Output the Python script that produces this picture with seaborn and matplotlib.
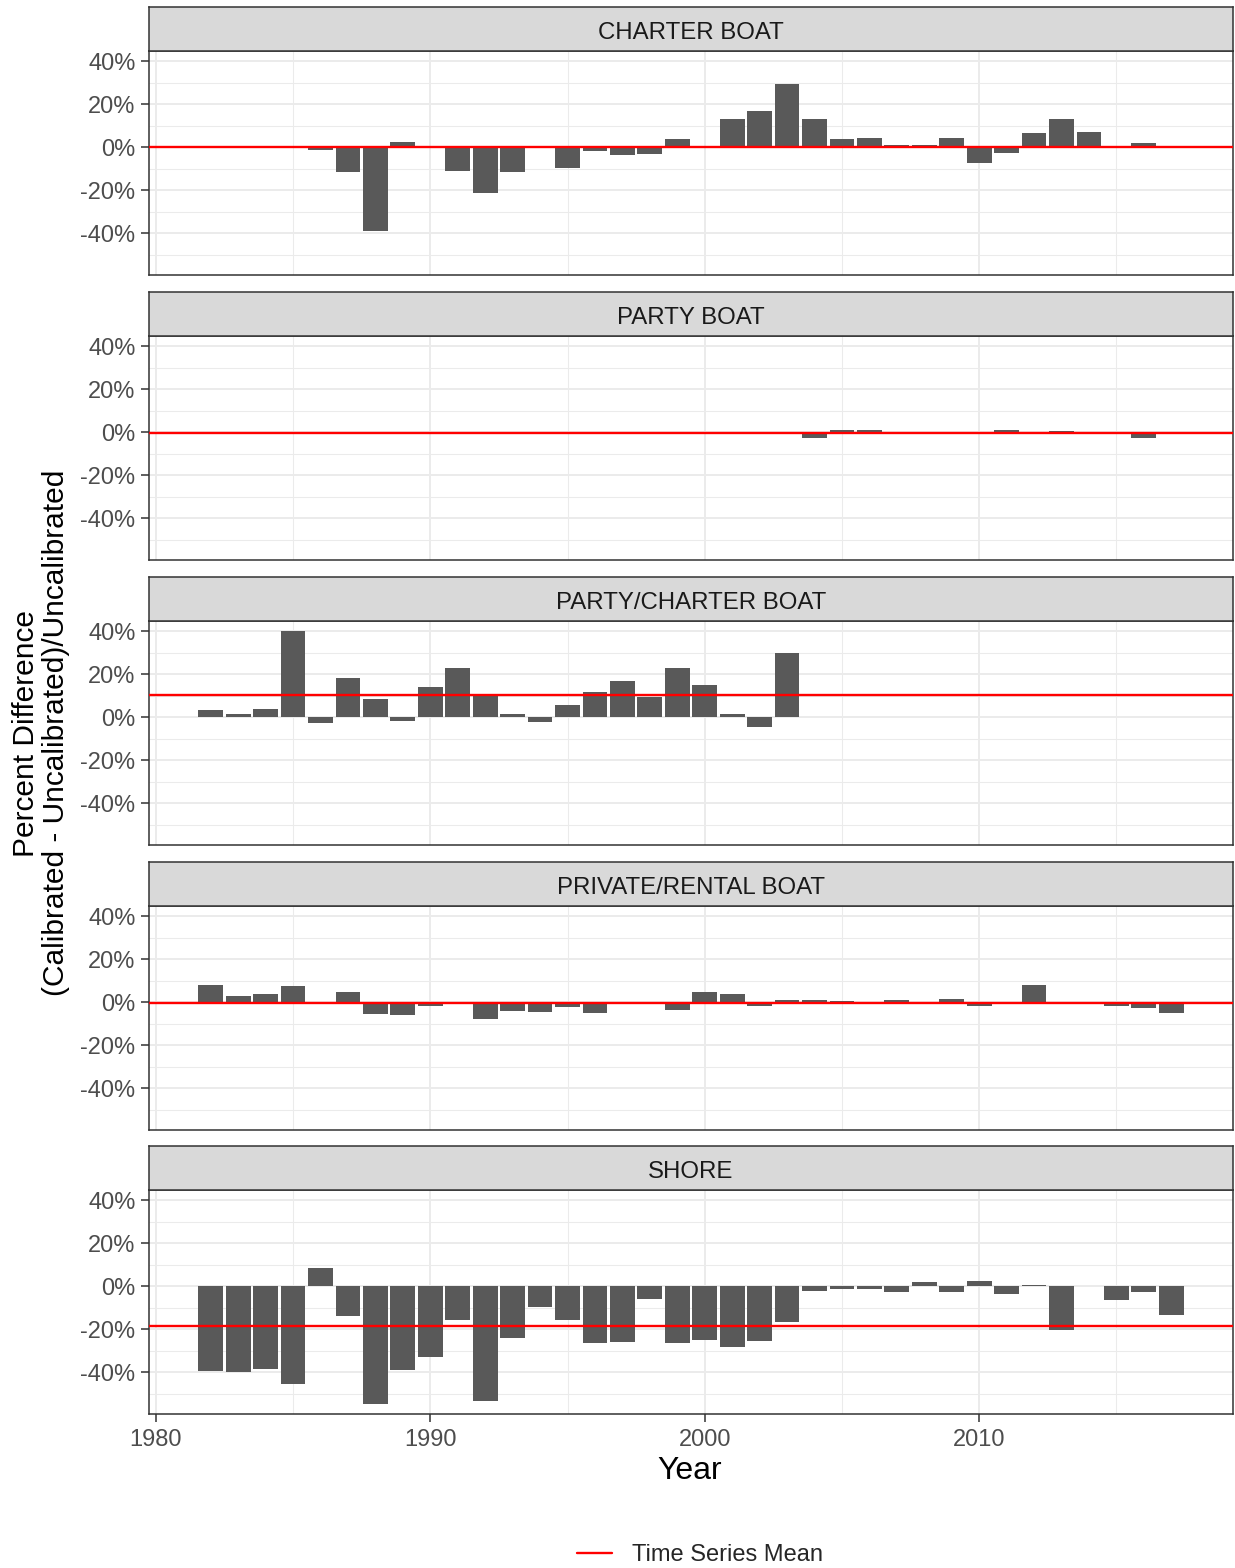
import numpy as np
import pandas as pd
import matplotlib
matplotlib.use("Agg")
import matplotlib.pyplot as plt
import seaborn as sns
from matplotlib.ticker import MultipleLocator, FixedLocator, FuncFormatter
from matplotlib.lines import Line2D

# ---------------- data ----------------
modes = ["CHARTER BOAT", "PARTY BOAT", "PARTY/CHARTER BOAT",
         "PRIVATE/RENTAL BOAT", "SHORE"]

charter_years = [1986, 1987, 1988, 1989, 1991, 1992, 1993, 1995, 1996, 1997, 1998, 1999,
                 2001, 2002, 2003, 2004, 2005, 2006, 2007, 2008, 2009, 2010, 2011, 2012,
                 2013, 2014, 2016]
charter_vals = [-1.2, -11.7, -39.0, 2.3, -10.9, -21.4, -11.4, -9.8, -1.9, -3.7, -3.0, 3.7,
                13.3, 16.9, 29.2, 13.3, 3.9, 4.2, 1.2, 1.2, 4.5, -7.3, -2.8, 6.7,
                13.3, 7.0, 2.2]

party_years = [2004, 2005, 2006, 2011, 2013, 2015, 2016]
party_vals = [-2.6, 1.1, 1.1, 1.0, 0.6, -0.5, -2.8]

pc_years = [1982, 1983, 1984, 1985, 1986, 1987, 1988, 1989, 1990, 1991, 1992,
            1993, 1994, 1995, 1996, 1997, 1998, 1999, 2000, 2001, 2002, 2003]
pc_vals = [3.6, 1.4, 4.0, 40.0, -2.5, 18.2, 8.7, -1.7, 14.0, 22.9, 10.5,
           1.7, -2.0, 5.9, 11.7, 17.0, 9.2, 22.7, 14.8, 1.7, -4.7, 29.9]

private_years = [1982, 1983, 1984, 1985, 1987, 1988, 1989, 1990, 1992, 1993, 1994,
                 1995, 1996, 1999, 2000, 2001, 2002, 2003, 2004, 2005, 2007, 2009,
                 2010, 2012, 2015, 2016, 2017]
private_vals = [8.2, 2.8, 3.7, 7.5, 4.6, -5.4, -5.7, -1.5, -7.7, -4.2, -4.5,
                -2.3, -4.9, -3.5, 4.9, 3.7, -1.7, 1.1, 1.1, 0.6, 1.2, 1.5,
                -1.5, 8.2, -1.5, -2.6, -5.2]

shore_years = [1982, 1983, 1984, 1985, 1986, 1987, 1988, 1989, 1990, 1991, 1992,
               1993, 1994, 1995, 1996, 1997, 1998, 1999, 2000, 2001, 2002, 2003,
               2004, 2005, 2006, 2007, 2008, 2009, 2010, 2011, 2012, 2013, 2015,
               2016, 2017]
shore_vals = [-39.2, -39.8, -38.3, -45.3, 8.7, -13.8, -54.6, -38.8, -32.9, -15.5, -53.3,
              -24.0, -9.5, -15.5, -26.4, -26.0, -6.0, -26.4, -24.8, -28.1, -25.3, -16.7,
              -2.2, -1.2, -1.1, -2.8, 2.2, -2.8, 2.5, -3.4, 0.8, -20.3, -6.4,
              -2.5, -13.2]

mode_years = [charter_years, party_years, pc_years, private_years, shore_years]
mode_vals = [charter_vals, party_vals, pc_vals, private_vals, shore_vals]

y_ticks = [-40, -20, 0, 20, 40]
x_ticks = [1980, 1990, 2000, 2010]

frames = []
for m, ys, vs in zip(modes, mode_years, mode_vals):
    frames.append(pd.DataFrame({"mode": m, "year": ys, "pct": vs}))
df = pd.concat(frames, ignore_index=True)
means = df.groupby("mode")["pct"].mean()

# ---------------- style ----------------
sns.set_theme(style="white")
plt.rcParams["font.family"] = ["Liberation Sans", "DejaVu Sans"]

W, H = 1235, 1568
fig = plt.figure(figsize=(W / 100, H / 100), dpi=100)


def rect(x0, y0, x1, y1):
    return [x0 / W, 1 - y1 / H, (x1 - x0) / W, (y1 - y0) / H]


left, right = 149, 1233
panel_tops = [51, 336, 621, 906, 1190]
panel_h = 224
strip_h = 44
dark = "#333333"
grid_c = "#EBEBEB"
tick_fs = 17

for i, m in enumerate(modes):
    top = panel_tops[i]
    ax = fig.add_axes(rect(left, top, right, top + panel_h))
    sub = df[df["mode"] == m]
    sns.barplot(data=sub, x="year", y="pct", native_scale=True, color="#595959",
                saturation=1, width=0.9, errorbar=None, linewidth=0, ax=ax, zorder=2)
    ax.axhline(means[m], color="#FF0000", lw=1.7, zorder=3)
    ax.set_xlim(1979.75, 2019.25)
    ax.set_ylim(-59.3, 44.7)
    ax.yaxis.set_major_locator(FixedLocator(y_ticks))
    ax.yaxis.set_minor_locator(MultipleLocator(10))
    ax.xaxis.set_major_locator(FixedLocator(x_ticks))
    ax.xaxis.set_minor_locator(MultipleLocator(5))
    ax.yaxis.set_major_formatter(FuncFormatter(lambda v, p: f"{int(round(v))}%"))
    ax.xaxis.set_major_formatter(FuncFormatter(lambda v, p: f"{int(round(v))}"))
    ax.set_axisbelow(True)
    ax.grid(which="major", color=grid_c, lw=1.4)
    ax.grid(which="minor", color=grid_c, lw=0.75)
    ax.set_xlabel("")
    ax.set_ylabel("")
    ax.tick_params(which="minor", length=0)
    ax.tick_params(axis="y", which="major", length=5.5, width=1.1, color=dark,
                   labelsize=tick_fs, labelcolor="#4D4D4D", pad=4.2, left=True)
    if i == len(modes) - 1:
        ax.tick_params(axis="x", which="major", length=5.5, width=1.1, color=dark,
                       labelsize=tick_fs, labelcolor="#4D4D4D", pad=5.5, bottom=True)
    else:
        ax.tick_params(axis="x", which="major", length=0, labelbottom=False)
    for s in ax.spines.values():
        s.set_color(dark)
        s.set_linewidth(1.1)
        s.set_visible(True)

    sax = fig.add_axes(rect(left, top - strip_h, right, top))
    sax.set_facecolor("#D9D9D9")
    sax.set_xticks([])
    sax.set_yticks([])
    for s in sax.spines.values():
        s.set_color(dark)
        s.set_linewidth(1.1)
        s.set_visible(True)
    sax.text(0.5, 0.42, m, ha="center", va="center", fontsize=17.3,
             color="#1A1A1A", transform=sax.transAxes)

fig.text(41 / W, 1 - 733 / H,
         "Percent Difference\n(Calibrated - Uncalibrated)/Uncalibrated",
         rotation=90, ha="center", va="center", fontsize=21.5, color="black",
         multialignment="center", linespacing=1.1)
fig.text(690 / W, 1 - 1471 / H, "Year", ha="center", va="center",
         fontsize=23, color="black")

fig.legend(handles=[Line2D([0], [0], color="#FF0000", lw=1.7)],
           labels=["Time Series Mean"], loc="center",
           bbox_to_anchor=(700 / W, 1 - 1555 / H), frameon=False,
           fontsize=17, handlelength=1.5, handletextpad=0.85)

fig.savefig("out.png", dpi=100, facecolor="white")
